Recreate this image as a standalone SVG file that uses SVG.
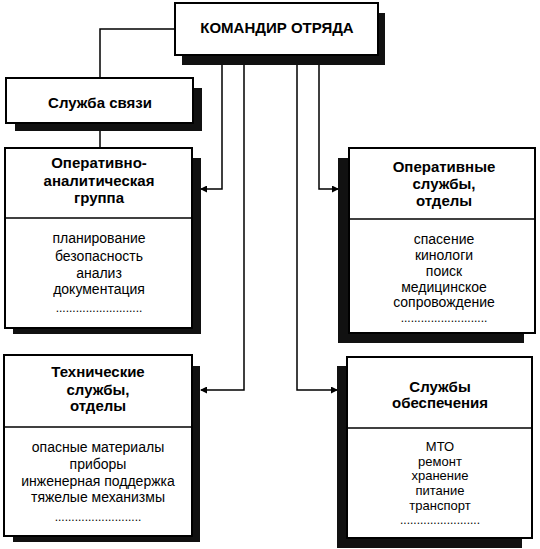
<svg xmlns="http://www.w3.org/2000/svg" width="540" height="549" viewBox="0 0 540 549">
<style>
.box{fill:#fff;stroke:#000;stroke-width:2}
.sh{fill:#111}
.div{stroke:#000;stroke-width:1.5}
.h{font-family:"Liberation Sans",Arial,sans-serif;font-weight:bold;font-size:15px;text-anchor:middle;fill:#000}
.t{font-family:"Liberation Sans",Arial,sans-serif;font-size:14px;text-anchor:middle;fill:#000}
.s{font-family:"Liberation Sans",Arial,sans-serif;font-size:13px;text-anchor:middle;fill:#000}
.d{font-family:"Liberation Sans",Arial,sans-serif;font-size:12px;text-anchor:middle;fill:#000}
.c{fill:none;stroke:#000;stroke-width:1.5}
</style>
<defs>
<marker id="ah" markerWidth="7" markerHeight="7" refX="6" refY="3.5" orient="auto" markerUnits="userSpaceOnUse">
<path d="M0,0 L7,3.5 L0,7 Z" fill="#000"/>
</marker>
</defs>
<rect width="540" height="549" fill="#fff"/>
<g id="connectors">
<polyline class="c" points="175,29 100,29 100,78"/>
<line class="c" x1="100" y1="123" x2="100" y2="148"/>
<polyline class="c" points="222,64 222,189 201,189" marker-end="url(#ah)"/>
<polyline class="c" points="244,64 244,390 201,390" marker-end="url(#ah)"/>
<polyline class="c" points="297,64 297,390 337,390" marker-end="url(#ah)"/>
<polyline class="c" points="319,64 319,189 338,189" marker-end="url(#ah)"/>
</g>
<g id="commander">
<rect class="sh" x="182" y="13" width="203" height="52"/>
<rect class="box" x="175" y="3" width="203" height="52"/>
<text class="h" x="277" y="33">КОМАНДИР ОТРЯДА</text>
</g>
<g id="sluzhba-svyazi">
<rect class="sh" x="15" y="88" width="187" height="43"/>
<rect class="box" x="6" y="78" width="187" height="45"/>
<text class="h" x="100" y="108">Служба связи</text>
</g>
<g id="oper-analit">
<rect class="sh" x="13" y="158" width="188" height="176"/>
<rect class="box" x="5" y="148" width="187" height="180"/>
<line class="div" x1="5" y1="218" x2="192" y2="218"/>
<text class="h" x="99" y="168">Оперативно-</text>
<text class="h" x="99" y="186">аналитическая</text>
<text class="h" x="99" y="203">группа</text>
<text class="t" x="99" y="243">планирование</text>
<text class="t" x="99" y="261">безопасность</text>
<text class="t" x="99" y="278">анализ</text>
<text class="t" x="99" y="294">документация</text>
<text class="d" x="99" y="312">..........................</text>
</g>
<g id="operativnye">
<rect class="sh" x="338" y="158" width="186" height="185"/>
<rect class="box" x="349" y="148" width="186" height="185"/>
<line class="div" x1="349" y1="219" x2="535" y2="219"/>
<text class="h" x="444" y="172">Оперативные</text>
<text class="h" x="444" y="189">службы,</text>
<text class="h" x="444" y="206">отделы</text>
<text class="t" x="444" y="244">спасение</text>
<text class="t" x="444" y="260">кинологи</text>
<text class="t" x="444" y="275.8">поиск</text>
<text class="t" x="444" y="291.6">медицинское</text>
<text class="t" x="444" y="307.4">сопровождение</text>
<text class="d" x="444" y="322">..........................</text>
</g>
<g id="tehnicheskie">
<rect class="sh" x="13" y="366" width="187" height="176"/>
<rect class="box" x="4" y="355" width="188" height="181"/>
<line class="div" x1="4" y1="427" x2="192" y2="427"/>
<text class="h" x="98" y="377">Технические</text>
<text class="h" x="98" y="395">службы,</text>
<text class="h" x="98" y="411">отделы</text>
<text class="t" x="98" y="452">опасные материалы</text>
<text class="t" x="98" y="469">приборы</text>
<text class="t" x="98" y="486">инженерная поддержка</text>
<text class="t" x="98" y="502">тяжелые механизмы</text>
<text class="d" x="98" y="521">..........................</text>
</g>
<g id="obespechenie">
<rect class="sh" x="337" y="366" width="185" height="182"/>
<rect class="box" x="347" y="357" width="185" height="181"/>
<line class="div" x1="347" y1="428" x2="532" y2="428"/>
<text class="h" x="440" y="392">Службы</text>
<text class="h" x="440" y="408">обеспечения</text>
<text class="s" x="440" y="451">МТО</text>
<text class="s" x="440" y="465.7">ремонт</text>
<text class="s" x="440" y="480.4">хранение</text>
<text class="s" x="440" y="495.1">питание</text>
<text class="s" x="440" y="509.8">транспорт</text>
<text class="d" x="440" y="524">........................</text>
</g>
</svg>
